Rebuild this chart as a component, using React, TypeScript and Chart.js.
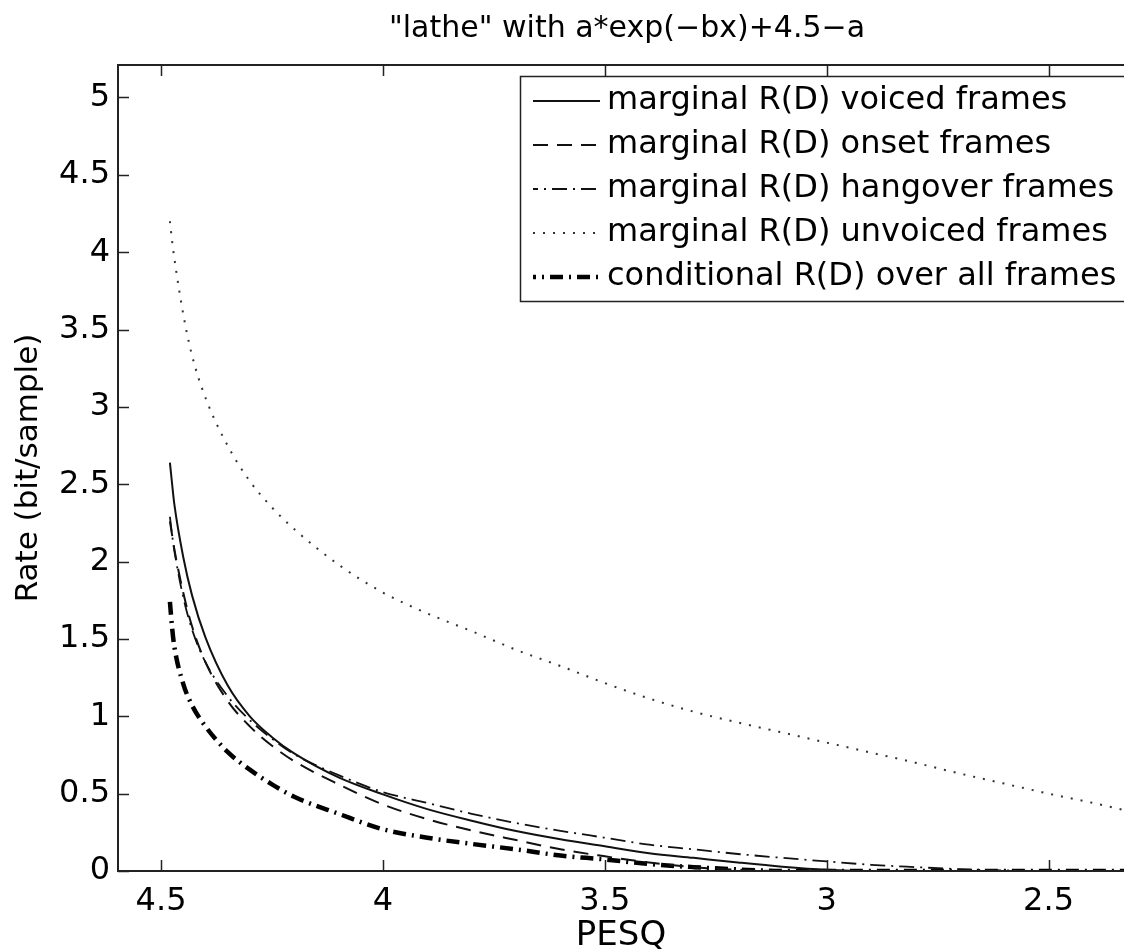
import React, { useEffect, useRef } from 'react';
import { Chart, registerables } from 'chart.js';

Chart.register(...registerables);

const TITLE = '"lathe" with a*exp(−bx)+4.5−a';
const X_LABEL = 'PESQ';
const Y_LABEL = 'Rate (bit/sample)';

const X_TICKS = [4.5, 4, 3.5, 3, 2.5];
const X_TICK_LABELS = ['4.5', '4', '3.5', '3', '2.5'];
const Y_TICKS = [0, 0.5, 1, 1.5, 2, 2.5, 3, 3.5, 4, 4.5, 5];
const Y_TICK_LABELS = ['0', '0.5', '1', '1.5', '2', '2.5', '3', '3.5', '4', '4.5', '5'];

const X_MIN = 2.33;
const X_MAX = 4.597;
const Y_MIN = 0;
const Y_MAX = 5.21;

const pesq = [4.48, 4.475, 4.47, 4.45, 4.43, 4.40, 4.35, 4.30, 4.25, 4.20, 4.10, 4.00, 3.90, 3.80, 3.70, 3.60, 3.50, 3.40, 3.30, 3.20, 3.10, 3.00, 2.90, 2.80, 2.70, 2.60, 2.50, 2.40, 2.33];

const voiced = [2.64, 2.50, 2.37, 2.03, 1.78, 1.51, 1.20, 1.00, 0.865, 0.76, 0.605, 0.495, 0.40, 0.325, 0.258, 0.205, 0.16, 0.115, 0.085, 0.055, 0.028, 0.008, 0, 0, 0, 0, 0, 0, 0];
const onset = [2.26, 2.17, 2.08, 1.80, 1.58, 1.35, 1.10, 0.935, 0.81, 0.71, 0.56, 0.43, 0.335, 0.262, 0.20, 0.14, 0.095, 0.055, 0.025, 0.008, 0, 0, 0, 0, 0, 0, 0, 0, 0];
const hangover = [2.29, 2.17, 2.07, 1.77, 1.56, 1.35, 1.13, 0.975, 0.855, 0.755, 0.62, 0.51, 0.44, 0.37, 0.31, 0.26, 0.215, 0.17, 0.14, 0.11, 0.085, 0.062, 0.04, 0.025, 0.012, 0.004, 0, 0, 0];
const unvoiced = [4.20, 4.07, 3.96, 3.60, 3.33, 3.06, 2.75, 2.52, 2.35, 2.21, 1.98, 1.80, 1.665, 1.55, 1.43, 1.325, 1.215, 1.115, 1.03, 0.96, 0.895, 0.83, 0.765, 0.70, 0.63, 0.565, 0.50, 0.44, 0.394];
const conditional = [1.74, 1.57, 1.45, 1.21, 1.07, 0.935, 0.77, 0.655, 0.56, 0.48, 0.37, 0.27, 0.215, 0.175, 0.14, 0.10, 0.075, 0.045, 0.025, 0.01, 0, 0, 0, 0, 0, 0, 0, 0, 0];

const SERIES_LABELS = [
  'marginal R(D) voiced frames',
  'marginal R(D) onset frames',
  'marginal R(D) hangover frames',
  'marginal R(D) unvoiced frames',
  'conditional R(D) over all frames',
];

const FONT = '"DejaVu Sans", "Liberation Sans", sans-serif';

const toPoints = (ys: number[]) => ys.map((v, i) => ({ x: pesq[i], y: v }));

const framePlugin = {
  id: 'matlabFrame',
  afterDatasetsDraw(chart: any) {
    const { ctx, chartArea, scales } = chart;
    const { left, right, top, bottom } = chartArea;
    const xs = scales.x;
    const ys = scales.y;
    ctx.save();
    ctx.strokeStyle = '#222';
    ctx.lineWidth = 2;
    ctx.setLineDash([]);
    ctx.beginPath();
    ctx.moveTo(right + 5, top);
    ctx.lineTo(left, top);
    ctx.lineTo(left, bottom);
    ctx.lineTo(right + 5, bottom);
    ctx.stroke();
    ctx.lineWidth = 1.5;
    ctx.beginPath();
    X_TICKS.forEach((v) => {
      const px = Math.round(xs.getPixelForValue(v)) + 0.5;
      ctx.moveTo(px, bottom);
      ctx.lineTo(px, bottom - 11);
      ctx.moveTo(px, top);
      ctx.lineTo(px, top + 11);
    });
    Y_TICKS.forEach((v) => {
      const py = Math.round(ys.getPixelForValue(v)) + 0.5;
      ctx.moveTo(left, py);
      ctx.lineTo(left + 11, py);
    });
    ctx.stroke();
    ctx.restore();
  },
  afterDraw(chart: any) {
    const { ctx } = chart;
    ctx.save();
    ctx.fillStyle = '#000';
    ctx.font = `30px ${FONT}`;
    ctx.textAlign = 'center';
    ctx.textBaseline = 'alphabetic';
    ctx.fillText(TITLE, 627, 37);

    const bx = 520.5, by = 76.5, bw = 620, bh = 225;
    ctx.fillStyle = '#fff';
    ctx.fillRect(bx, by, bw, bh);
    ctx.strokeStyle = '#222';
    ctx.lineWidth = 1.5;
    ctx.setLineDash([]);
    ctx.strokeRect(bx, by, bw, bh);

    const rowY = [101, 145, 189, 233, 277];
    chart.data.datasets.forEach((ds: any, i: number) => {
      const yy = rowY[i];
      ctx.save();
      ctx.strokeStyle = ds.borderColor;
      ctx.lineWidth = ds.borderWidth;
      ctx.setLineDash(ds.borderDash || []);
      ctx.lineDashOffset = ds.legendDashOffset || 0;
      ctx.beginPath();
      ctx.moveTo(533, yy);
      ctx.lineTo(600, yy);
      ctx.stroke();
      ctx.restore();
      ctx.fillStyle = '#000';
      ctx.font = `32px ${FONT}`;
      ctx.textAlign = 'left';
      ctx.textBaseline = 'middle';
      ctx.fillText(ds.label, 607, yy);
    });
    ctx.restore();
  },
};

export default function App() {
  const ref = useRef<HTMLCanvasElement>(null);

  useEffect(() => {
    document.body.style.margin = '0';
    document.body.style.overflow = 'hidden';
    const canvas = ref.current!;
    const chart = new Chart(canvas, {
      type: 'line',
      data: {
        datasets: [
          { label: SERIES_LABELS[0], data: toPoints(voiced), borderColor: '#111', borderWidth: 2, borderDash: [] },
          { label: SERIES_LABELS[1], data: toPoints(onset), borderColor: '#111', borderWidth: 2, borderDash: [15, 9], legendDashOffset: 0 },
          { label: SERIES_LABELS[2], data: toPoints(hangover), borderColor: '#111', borderWidth: 1.8, borderDash: [15, 6, 2, 6], legendDashOffset: 10 },
          { label: SERIES_LABELS[3], data: toPoints(unvoiced), borderColor: '#333', borderWidth: 2, borderDash: [2, 8] },
          { label: SERIES_LABELS[4], data: toPoints(conditional), borderColor: '#000', borderWidth: 4.5, borderDash: [13, 6, 2, 6], legendDashOffset: 10 },
        ] as any,
      },
      options: {
        responsive: false,
        animation: false,
        devicePixelRatio: 1,
        layout: { padding: { top: 65, right: 0, bottom: 0, left: 0 } },
        elements: {
          point: { radius: 0 },
          line: { tension: 0, cubicInterpolationMode: 'monotone', fill: false },
        },
        plugins: {
          legend: { display: false },
          title: { display: false },
          tooltip: { enabled: false },
        },
        scales: {
          x: {
            type: 'linear',
            reverse: true,
            min: X_MIN,
            max: X_MAX,
            grid: { display: false, drawTicks: false },
            border: { display: false },
            afterBuildTicks: (s: any) => {
              s.ticks = X_TICKS.map((v) => ({ value: v }));
            },
            afterFit: (s: any) => {
              s.height = 79;
            },
            ticks: {
              autoSkip: false,
              maxRotation: 0,
              color: '#000',
              padding: 11,
              font: { family: FONT, size: 32 },
              callback: (v: any) => X_TICK_LABELS[X_TICKS.indexOf(Number(v))] ?? '',
            },
            title: {
              display: true,
              text: X_LABEL,
              color: '#000',
              font: { family: FONT, size: 34, lineHeight: 0.8 },
              padding: { top: 0, bottom: 0 },
            },
          },
          y: {
            type: 'linear',
            min: Y_MIN,
            max: Y_MAX,
            grid: { display: false, drawTicks: false },
            border: { display: false },
            afterBuildTicks: (s: any) => {
              s.ticks = Y_TICKS.map((v) => ({ value: v }));
            },
            afterFit: (s: any) => {
              s.width = 118;
            },
            ticks: {
              autoSkip: false,
              color: '#000',
              padding: 8,
              font: { family: FONT, size: 32 },
              callback: (v: any) => Y_TICK_LABELS[Y_TICKS.indexOf(Number(v))] ?? '',
            },
            title: {
              display: true,
              text: Y_LABEL,
              color: '#000',
              font: { family: FONT, size: 31, lineHeight: 1.2 },
              padding: { top: 10, bottom: 0 },
            },
          },
        },
      } as any,
      plugins: [framePlugin],
    });
    return () => chart.destroy();
  }, []);

  return (
    <div style={{ width: 1124, height: 950, background: '#fff' }}>
      <canvas ref={ref} width={1124} height={950} style={{ display: 'block' }} />
    </div>
  );
}
